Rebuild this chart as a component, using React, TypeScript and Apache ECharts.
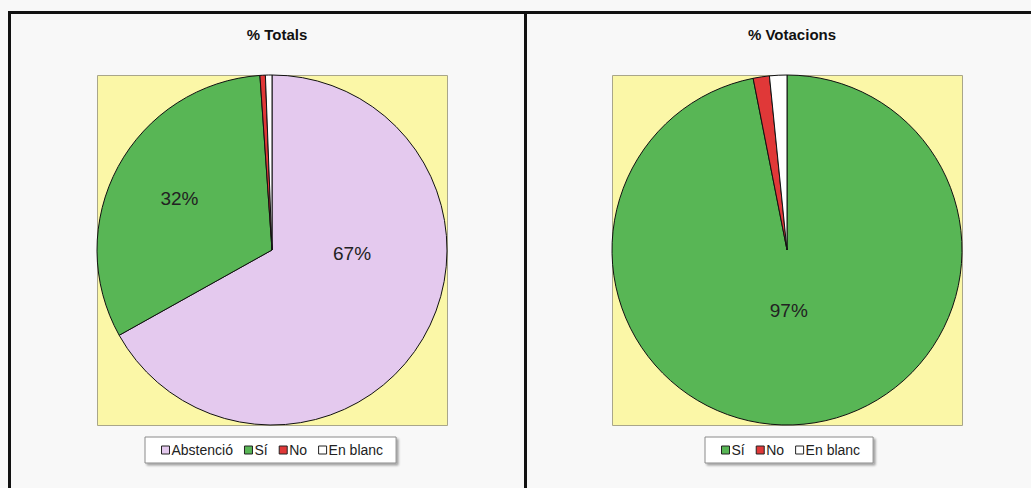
import React, { useEffect, useRef } from "react";
import * as echarts from "echarts";

const titles = ["% Totals", "% Votacions"];
const totalsNames = ["Abstenció", "Sí", "No", "En blanc"];
const totalsValues = [66.9, 32.0, 0.5, 0.6];
const totalsColors = ["#e4c9ee", "#58b655", "#e03838", "#ffffff"];
const totalsShowLabel = [true, true, false, false];

const votesNames = ["Sí", "No", "En blanc"];
const votesValues = [96.9, 1.5, 1.6];
const votesColors = ["#58b655", "#e03838", "#ffffff"];
const votesShowLabel = [true, false, false];

// label nudges (dx, dy) from the default inside position
const totalsLabelShift = [[2, -42], [-13, -8], [0, 0], [0, 0]];
const votesLabelShift = [[-7, -30], [0, 0], [0, 0]];

export default function App() {
  const ref = useRef<HTMLDivElement>(null);
  useEffect(() => {
    if (!ref.current) return;
    const chart = echarts.init(ref.current, null, { renderer: "svg" });
    const mkData = (names: string[], vals: number[], cols: string[], show: boolean[]) =>
      names.map((n, i) => ({
        name: n,
        value: vals[i],
        itemStyle: { color: cols[i] },
        label: { show: show[i] },
      }));
    const labelStyle = {
      position: "inside" as const,
      formatter: (p: any) => Math.round(p.percent) + "%",
      fontFamily: "Arial, Liberation Sans, sans-serif",
      fontSize: 19,
      color: "#222",
    };
    const legendCommon = {
      orient: "horizontal" as const,
      icon: "rect",
      itemWidth: 8,
      itemHeight: 8,
      itemGap: 11,
      padding: [6, 13, 6, 16],
      backgroundColor: "#ffffff",
      borderColor: "#8a8a8a",
      borderWidth: 1,
      shadowColor: "rgba(0,0,0,0.35)",
      shadowBlur: 2,
      shadowOffsetX: 2,
      shadowOffsetY: 2,
      itemStyle: { borderColor: "#222", borderWidth: 1 },
      textStyle: {
        fontFamily: "Arial, Liberation Sans, sans-serif",
        fontSize: 14,
        color: "#222",
        padding: [0, 0, 0, -3],
      },
      selectedMode: false,
    };
    const titleStyle = { fontFamily: "Arial, Liberation Sans, sans-serif", fontSize: 15, fontWeight: "bold", color: "#111" };
    chart.setOption({
      animation: false,
      backgroundColor: "#f8f8f8",
      title: [
        { text: titles[0], left: 272, top: 22, textAlign: "center", textStyle: titleStyle },
        { text: titles[1], left: 787, top: 22, textAlign: "center", textStyle: titleStyle },
      ],
      legend: [
        { ...legendCommon, left: 145, top: 437, data: totalsNames },
        { ...legendCommon, left: 705, top: 437, data: votesNames },
      ],
      graphic: [
        { type: "rect", z: 0, shape: { x: 97.5, y: 75.5, width: 350, height: 350 }, style: { fill: "#fbf7a7", stroke: "#a9a68a", lineWidth: 1 } },
        { type: "rect", z: 0, shape: { x: 612.5, y: 75.5, width: 350, height: 350 }, style: { fill: "#fbf7a7", stroke: "#a9a68a", lineWidth: 1 } },
        { type: "rect", z: 10, shape: { x: 9.5, y: 12.5, width: 1100, height: 600 }, style: { fill: "none", stroke: "#111", lineWidth: 3 } },
        { type: "line", z: 10, shape: { x1: 525.5, y1: 12, x2: 525.5, y2: 500 }, style: { stroke: "#111", lineWidth: 3 } },
      ],
      series: [
        {
          type: "pie",
          z: 2,
          center: [272, 250],
          radius: 175,
          startAngle: 90,
          clockwise: true,
          legendHoverLink: false,
          label: labelStyle,
          labelLine: { show: false },
          labelLayout: (p: any) => ({ dx: totalsLabelShift[p.dataIndex][0], dy: totalsLabelShift[p.dataIndex][1] }),
          itemStyle: { borderColor: "#111", borderWidth: 1 },
          emphasis: { disabled: true },
          data: mkData(totalsNames, totalsValues, totalsColors, totalsShowLabel),
        },
        {
          type: "pie",
          z: 2,
          center: [787, 250],
          radius: 175,
          startAngle: 90,
          clockwise: true,
          legendHoverLink: false,
          label: labelStyle,
          labelLine: { show: false },
          labelLayout: (p: any) => ({ dx: votesLabelShift[p.dataIndex][0], dy: votesLabelShift[p.dataIndex][1] }),
          itemStyle: { borderColor: "#111", borderWidth: 1 },
          emphasis: { disabled: true },
          data: mkData(votesNames, votesValues, votesColors, votesShowLabel),
        },
      ],
    });
    return () => chart.dispose();
  }, []);
  return <div ref={ref} style={{ position: "fixed", left: 0, top: 0, width: 1031, height: 488 }} />;
}
